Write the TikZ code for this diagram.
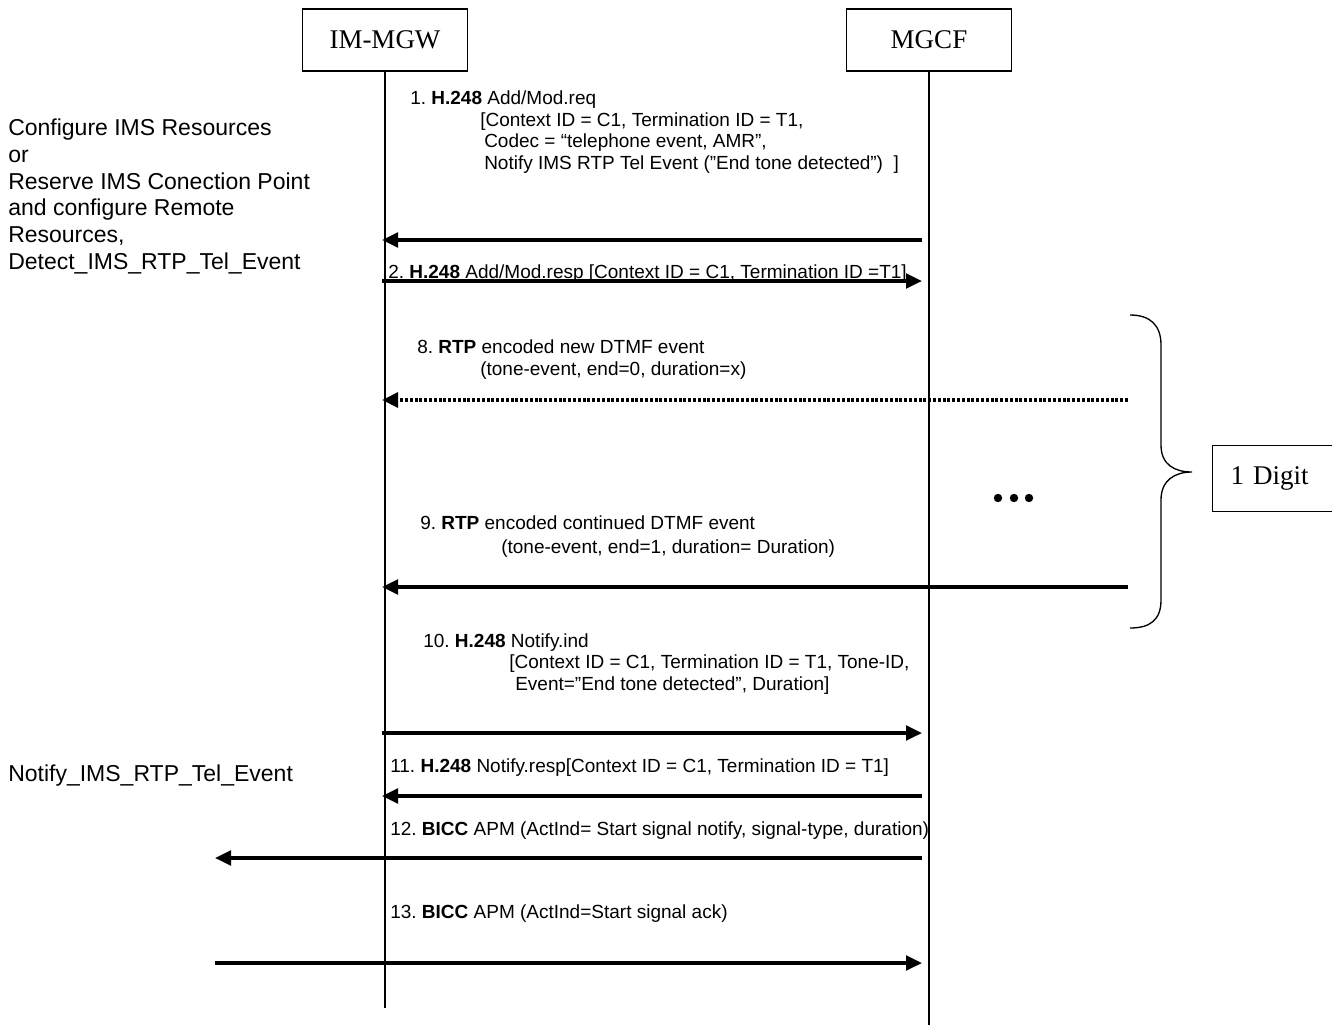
\documentclass[tikz,border=0pt]{standalone}
\usepackage{fontspec}
\setmainfont{Liberation Sans}
\newfontfamily\serifface{Liberation Serif}
\usetikzlibrary{arrows.meta}
\frenchspacing
\begin{document}
\begin{tikzpicture}[x=0.75pt,y=-0.75pt,
  entity/.style={draw, line width=0.9pt, minimum width=123.75pt, minimum height=46.5pt, inner sep=0pt, font=\serifface\fontsize{20.25}{24}\selectfont},
  lifeline/.style={line width=1pt},
  msg/.style={line width=2.5pt, -{Triangle[length=12pt,width=11pt]}},
  dotmsg/.style={msg, line width=2.8pt, dash pattern=on 2.2pt off 1.4pt},
  lbl/.style={anchor=base west, inner sep=0pt, font=\fontsize{14.25}{16}\selectfont},
  sidelbl/.style={anchor=base west, inner sep=0pt, font=\fontsize{17.25}{20}\selectfont},
  dotmark/.style={circle, fill, inner sep=0pt, minimum size=6.3pt}]
\useasboundingbox (0,0) rectangle (1332,1025);

% entities and lifelines
\node[entity] (imgw) at (385,40) {IM-MGW};
\node[entity] (mgcf) at (929,40) {MGCF};
\coordinate (imgwEnd) at (385,1008);
\coordinate (mgcfEnd) at (929,1025);
\draw[lifeline] (imgw.south) -- (imgwEnd);
\draw[lifeline] (mgcf.south) -- (mgcfEnd);

% side texts
\node[sidelbl] (s1) at (8,135) {Configure IMS Resources};
\node[sidelbl] (s2) at (8,162) {or};
\node[sidelbl] (s3) at (8,189) {Reserve IMS Conection Point};
\node[sidelbl] (s4) at (8,215) {and configure Remote};
\node[sidelbl] (s5) at (8,242) {Resources,};
\node[sidelbl] (s6) at (8,269) {Detect\_IMS\_RTP\_Tel\_Event};
\node[sidelbl] (s7) at (8,781) {Notify\_IMS\_RTP\_Tel\_Event};

% message 1
\node[lbl] (t1a) at (410,104) {1. \textbf{H.248} Add/Mod.req};
\node[lbl] (t1b) at (480,126) {[Context ID = C1, Termination ID = T1,};
\node[lbl] (t1c) at (484,147) {Codec = “telephone event, AMR”,};
\node[lbl] (t1d) at (484,169) {Notify IMS RTP Tel Event (”End tone detected”)\ \ ]};
\coordinate (m1r) at (922,240); \coordinate (m1l) at (382,240);
\draw[msg] (m1r) -- (m1l);

% message 2
\node[lbl] (t2) at (388,278) {2. \textbf{H.248} Add/Mod.resp [Context ID = C1, Termination ID =T1]};
\coordinate (m2l) at (382,281); \coordinate (m2r) at (922,281);
\draw[msg] (m2l) -- (m2r);

% message 8
\node[lbl] (t8a) at (417,353) {8. \textbf{RTP} encoded new DTMF event};
\node[lbl] (t8b) at (480,375) {(tone-event, end=0, duration=x)};
\coordinate (m8r) at (1128,400); \coordinate (m8l) at (382,400);
\draw[dotmsg] (m8r) -- (m8l);

% dots
\node[dotmark] (d1) at (998,498) {};
\node[dotmark] (d2) at (1014,498) {};
\node[dotmark] (d3) at (1029,498) {};

% message 9
\node[lbl] (t9a) at (420,529) {9. \textbf{RTP} encoded continued DTMF event};
\node[lbl] (t9b) at (501,553) {(tone-event, end=1, duration= Duration)};
\coordinate (m9r) at (1128,587); \coordinate (m9l) at (382,587);
\draw[msg] (m9r) -- (m9l);

% brace and digit box
\draw[line width=1pt] (1130,315) .. controls (1150,315) and (1161,325) .. (1161,345)
  -- (1161,445) .. controls (1161,465) and (1175,472) .. (1192,472)
  .. controls (1175,472) and (1161,480) .. (1161,500)
  -- (1161,600) .. controls (1161,620) and (1150,628) .. (1130,628);
\node[draw, line width=0.9pt, anchor=north west, minimum height=49.5pt, text width=72pt, inner xsep=13.5pt, align=left, font=\serifface\fontsize{20.25}{24}\selectfont] (digit) at (1212,445) {1 Digit};

% message 10
\node[lbl] (t10a) at (423,647) {10. \textbf{H.248} Notify.ind};
\node[lbl] (t10b) at (509,668) {[Context ID = C1, Termination ID = T1, Tone-ID,};
\node[lbl] (t10c) at (515,690) {Event=”End tone detected”, Duration]};
\coordinate (m10l) at (382,733); \coordinate (m10r) at (922,733);
\draw[msg] (m10l) -- (m10r);

% message 11
\node[lbl] (t11) at (390,772) {11. \textbf{H.248} Notify.resp[Context ID = C1, Termination ID = T1]};
\coordinate (m11r) at (922,796); \coordinate (m11l) at (382,796);
\draw[msg] (m11r) -- (m11l);

% message 12
\node[lbl] (t12) at (390,835) {12. \textbf{BICC} APM (ActInd= Start signal notify, signal-type, duration)};
\coordinate (m12r) at (922,858); \coordinate (m12l) at (215,858);
\draw[msg] (m12r) -- (m12l);

% message 13
\node[lbl] (t13) at (390,918) {13. \textbf{BICC} APM (ActInd=Start signal ack)};
\coordinate (m13l) at (215,963); \coordinate (m13r) at (922,963);
\draw[msg] (m13l) -- (m13r);
\end{tikzpicture}
\end{document}
